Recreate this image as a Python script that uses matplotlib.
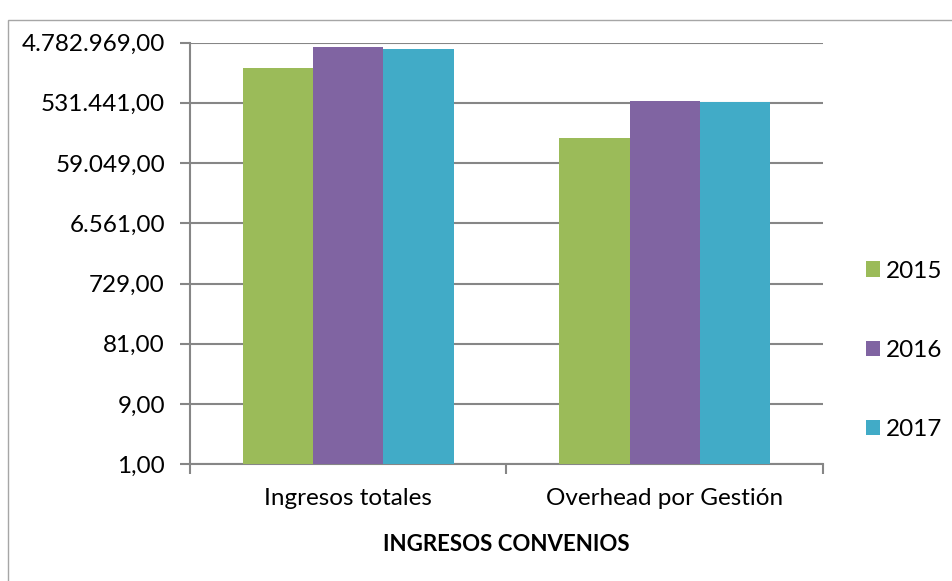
import matplotlib.pyplot as plt
import numpy as np
from matplotlib.patches import Rectangle
from matplotlib.ticker import FixedLocator, FuncFormatter, NullLocator

categories = ["Ingresos totales", "Overhead por Gestión"]
years = ["2015", "2016", "2017"]
values = {
    "2015": [1890000, 148600],
    "2016": [4070000, 574000],
    "2017": [3830000, 547000],
}
colors = {"2015": "#9BBB59", "2016": "#8064A2", "2017": "#41ABC7"}
ytick_values = [9 ** k for k in range(8)]

plt.rcParams["font.family"] = ["Lato", "DejaVu Sans"]


def es_number(v, _pos=None):
    s = f"{v:,.2f}"
    return s.replace(",", "X").replace(".", ",").replace("X", ".")


fig = plt.figure(figsize=(9.53, 5.81), dpi=100)
ax = fig.add_axes([190 / 953, 1 - 464.3 / 581, 633 / 953, 421.8 / 581])

# outer chart frame (continues past the right and bottom edges)
fig.patches.append(Rectangle((8 / 953, -0.1), 1.2, 1.1 - 20 / 581,
                             transform=fig.transFigure, fill=False,
                             edgecolor="#A6A6A6", linewidth=1.0))

x = np.arange(len(categories))
bar_w = 1 / 4.5
for i, yr in enumerate(years):
    ax.bar(x + (i - 1) * bar_w, values[yr], width=bar_w, color=colors[yr],
           label=yr, zorder=3)

ax.set_yscale("log", base=9)
ax.set_ylim(1, 9 ** 7)
ax.set_xlim(-0.5, 1.5)
ax.yaxis.set_major_locator(FixedLocator(ytick_values))
ax.yaxis.set_minor_locator(NullLocator())
ax.yaxis.set_major_formatter(FuncFormatter(es_number))
ax.grid(axis="y", color="#868686", linewidth=1.5, zorder=0)

ax.set_xticks(x)
ax.set_xticklabels(categories)
ax.set_xticks([-0.5, 0.5, 1.5], minor=True)
ax.tick_params(axis="x", which="major", length=0, pad=17, labelsize=17.5)
ax.tick_params(axis="x", which="minor", length=7, width=1.5, color="#868686")
ax.tick_params(axis="y", length=7, width=1.5, color="#868686", pad=11,
               labelsize=17.5)

for side in ["top", "right"]:
    ax.spines[side].set_visible(False)
for side in ["left", "bottom"]:
    ax.spines[side].set_color("#868686")
    ax.spines[side].set_linewidth(1.5)

ax.set_xlabel("INGRESOS CONVENIOS", fontsize=16, fontweight="bold",
              labelpad=18)

ax.legend(loc="center left", bbox_to_anchor=(1.068, 0.27), frameon=False,
          fontsize=17.5, handlelength=0.58, handleheight=0.58,
          handletextpad=0.25, labelspacing=2.4, borderaxespad=0,
          borderpad=0)

fig.savefig("out.png", dpi=100)
